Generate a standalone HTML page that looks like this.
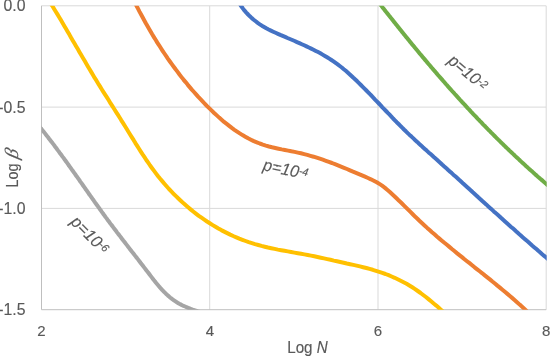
<!DOCTYPE html>
<html><head><meta charset="utf-8">
<style>
html,body{margin:0;padding:0;background:#fff;width:550px;height:356px;overflow:hidden}
svg{display:block;will-change:transform}
text{font-family:"Liberation Sans",sans-serif;fill:#595959;stroke:#595959;stroke-width:0.15px}
</style></head>
<body>
<svg width="550" height="356" viewBox="0 0 550 356">
<defs><clipPath id="pa"><rect x="41.5" y="5.8" width="505.2" height="303.9"/></clipPath></defs>
<g stroke="#D9D9D9" stroke-width="1" fill="none">
<line x1="41.5" y1="5.8" x2="546.2" y2="5.8"/>
<line x1="41.5" y1="107.1" x2="546.2" y2="107.1"/>
<line x1="41.5" y1="208.4" x2="546.2" y2="208.4"/>
<line x1="209.7" y1="5.8" x2="209.7" y2="309.7"/>
<line x1="378.0" y1="5.8" x2="378.0" y2="309.7"/>
<line x1="546.2" y1="5.8" x2="546.2" y2="309.7"/>
</g>
<g stroke="#BFBFBF" stroke-width="1" fill="none">
<line x1="41.5" y1="5.8" x2="41.5" y2="309.7"/>
<line x1="41.5" y1="309.7" x2="546.2" y2="309.7"/>
</g>
<g clip-path="url(#pa)" fill="none" stroke-width="4" stroke-linejoin="round">
<path stroke="#A5A5A5" d="M37.8,124.6 38.9,125.9 39.9,127.1 40.9,128.4 41.9,129.6 42.9,130.9 44.0,132.1 45.0,133.4 46.0,134.7 47.0,136.0 48.0,137.2 48.9,138.5 49.9,139.8 50.9,141.1 51.9,142.3 52.9,143.6 53.9,144.9 54.8,146.2 55.8,147.5 56.8,148.8 57.7,150.1 58.7,151.4 59.6,152.7 60.6,154.0 61.6,155.3 62.5,156.6 63.5,157.9 64.4,159.2 65.4,160.5 66.3,161.8 67.3,163.1 68.2,164.4 69.1,165.8 70.1,167.1 71.0,168.4 71.9,169.7 72.9,171.0 73.8,172.3 74.8,173.7 75.7,175.0 76.6,176.3 77.6,177.6 78.5,178.9 79.4,180.2 80.3,181.6 81.3,182.9 82.2,184.2 83.1,185.5 84.1,186.9 85.0,188.2 85.9,189.5 86.9,190.8 87.8,192.1 88.7,193.5 89.6,194.8 90.6,196.1 91.5,197.4 92.4,198.7 93.4,200.0 94.3,201.4 95.2,202.7 96.2,204.0 97.1,205.3 98.1,206.6 99.0,207.9 99.9,209.2 100.9,210.5 101.8,211.9 102.8,213.2 103.7,214.5 104.7,215.8 105.6,217.1 106.6,218.4 107.5,219.7 108.5,221.0 109.5,222.3 110.4,223.6 111.4,224.9 112.4,226.1 113.3,227.4 114.3,228.7 115.3,230.0 116.3,231.3 117.2,232.6 118.2,233.9 119.2,235.1 120.2,236.4 121.2,237.7 122.1,239.0 123.1,240.3 124.1,241.5 125.1,242.8 126.1,244.1 127.1,245.4 128.1,246.7 129.0,247.9 130.0,249.2 131.0,250.5 132.0,251.8 133.0,253.0 134.0,254.3 135.0,255.6 136.0,256.9 137.0,258.1 138.0,259.4 139.0,260.7 140.0,262.0 140.9,263.3 141.9,264.5 142.9,265.8 143.9,267.1 144.9,268.4 145.9,269.7 146.9,271.0 147.9,272.2 148.9,273.5 149.8,274.8 150.8,276.1 151.8,277.4 152.8,278.7 153.8,280.0 154.8,281.2 155.8,282.5 156.8,283.7 157.9,285.0 158.9,286.2 159.9,287.4 161.0,288.6 162.1,289.8 163.2,291.0 164.3,292.1 165.4,293.2 166.5,294.3 167.7,295.4 168.9,296.4 170.1,297.5 171.3,298.4 172.6,299.4 173.9,300.3 175.2,301.2 176.5,302.1 177.9,302.9 179.3,303.7 180.7,304.4 182.1,305.2 183.6,305.9 185.1,306.5 186.6,307.2 188.1,307.8 189.6,308.4 191.1,309.0 192.7,309.6 194.2,310.1 195.8,310.6 197.4,311.2 198.9,311.7 200.5,312.2 202.1,312.7 203.7,313.1 205.3,313.6"/>
<path stroke="#FFC000" d="M48.7,0.2 50.5,3.0 52.3,5.8 54.0,8.7 55.7,11.5 57.5,14.4 59.2,17.2 60.9,20.1 62.6,23.0 64.3,25.9 66.0,28.8 67.7,31.7 69.4,34.6 71.0,37.5 72.7,40.4 74.4,43.3 76.1,46.2 77.8,49.1 79.4,51.9 81.1,54.8 82.8,57.7 84.5,60.6 86.2,63.5 87.9,66.4 89.6,69.3 91.3,72.1 93.0,75.0 94.7,77.9 96.5,80.7 98.2,83.6 100.0,86.4 101.7,89.2 103.5,92.1 105.3,94.9 107.1,97.7 108.9,100.5 110.6,103.4 112.4,106.2 114.2,109.0 116.0,111.8 117.8,114.6 119.6,117.5 121.3,120.3 123.1,123.1 124.9,126.0 126.6,128.8 128.4,131.7 130.1,134.5 131.9,137.4 133.7,140.2 135.4,143.1 137.2,145.9 139.0,148.8 140.8,151.6 142.6,154.4 144.5,157.2 146.3,160.0 148.2,162.7 150.1,165.5 152.1,168.2 154.1,170.9 156.1,173.6 158.1,176.2 160.2,178.8 162.4,181.4 164.6,184.0 166.8,186.5 169.0,189.0 171.3,191.4 173.6,193.8 176.0,196.2 178.4,198.5 180.8,200.8 183.3,203.1 185.8,205.3 188.4,207.5 190.9,209.6 193.5,211.7 196.2,213.8 198.8,215.8 201.5,217.7 204.3,219.6 207.0,221.5 209.8,223.3 212.7,225.1 215.5,226.8 218.4,228.5 221.3,230.1 224.2,231.6 227.2,233.1 230.2,234.6 233.2,236.0 236.3,237.3 239.3,238.6 242.4,239.8 245.6,241.0 248.7,242.1 251.9,243.1 255.0,244.1 258.3,245.0 261.5,245.9 264.7,246.7 268.0,247.5 271.3,248.2 274.6,248.9 277.9,249.6 281.2,250.2 284.5,250.8 287.8,251.4 291.1,252.0 294.4,252.6 297.8,253.2 301.1,253.8 304.4,254.4 307.7,255.0 311.0,255.6 314.3,256.3 317.5,257.0 320.8,257.7 324.0,258.4 327.3,259.1 330.5,259.8 333.8,260.6 337.0,261.3 340.3,262.0 343.6,262.7 346.8,263.5 350.1,264.2 353.4,264.9 356.6,265.6 359.9,266.4 363.1,267.2 366.4,268.0 369.6,268.9 372.8,269.8 376.0,270.8 379.2,271.8 382.3,272.9 385.5,274.0 388.6,275.2 391.6,276.5 394.7,277.8 397.7,279.2 400.7,280.7 403.6,282.2 406.6,283.8 409.4,285.5 412.3,287.3 415.1,289.1 417.8,291.0 420.6,293.0 423.2,295.0 425.9,297.0 428.5,299.1 431.1,301.3 433.7,303.5 436.3,305.6 438.8,307.8 441.3,310.1 443.9,312.3"/>
<path stroke="#ED7D31" d="M133.6,-0.0 135.1,2.9 136.5,5.8 138.0,8.7 139.5,11.6 141.1,14.5 142.6,17.3 144.2,20.2 145.7,23.0 147.3,25.8 149.0,28.7 150.6,31.5 152.2,34.3 153.9,37.1 155.6,39.8 157.3,42.6 159.1,45.3 160.8,48.0 162.6,50.8 164.4,53.5 166.2,56.1 168.0,58.8 169.9,61.5 171.8,64.1 173.7,66.7 175.6,69.3 177.6,71.9 179.5,74.5 181.5,77.1 183.5,79.6 185.6,82.1 187.6,84.6 189.7,87.1 191.8,89.6 194.0,92.0 196.1,94.4 198.3,96.9 200.5,99.2 202.8,101.6 205.0,104.0 207.3,106.3 209.7,108.6 212.0,110.9 214.4,113.2 216.8,115.4 219.2,117.6 221.6,119.7 224.1,121.9 226.7,123.9 229.2,125.9 231.8,127.9 234.4,129.8 237.1,131.6 239.8,133.4 242.5,135.1 245.3,136.7 248.1,138.3 250.9,139.7 253.8,141.1 256.8,142.3 259.8,143.5 262.8,144.6 265.9,145.6 269.0,146.5 272.1,147.3 275.3,148.0 278.5,148.7 281.7,149.4 284.9,150.0 288.1,150.6 291.4,151.3 294.6,151.9 297.8,152.6 301.0,153.3 304.2,154.1 307.3,154.9 310.4,155.8 313.6,156.7 316.7,157.7 319.8,158.7 322.8,159.7 325.9,160.8 328.9,161.9 332.0,163.0 335.0,164.2 338.0,165.4 341.0,166.6 344.0,167.8 347.0,169.0 350.0,170.3 353.0,171.6 356.0,172.8 359.0,174.1 362.0,175.4 365.0,176.7 368.0,178.0 370.9,179.3 373.8,180.7 376.7,182.2 379.4,183.9 382.1,185.7 384.7,187.6 387.2,189.7 389.6,191.8 392.0,194.0 394.4,196.2 396.8,198.5 399.1,200.8 401.5,203.0 403.8,205.3 406.1,207.6 408.4,209.9 410.7,212.2 413.0,214.5 415.3,216.8 417.7,219.0 420.0,221.3 422.4,223.5 424.8,225.7 427.2,227.9 429.6,230.0 432.0,232.2 434.5,234.3 436.9,236.5 439.4,238.6 441.9,240.7 444.4,242.8 446.9,244.8 449.4,246.9 451.9,249.0 454.4,251.0 456.9,253.1 459.4,255.1 462.0,257.1 464.5,259.2 467.0,261.2 469.6,263.2 472.1,265.2 474.6,267.3 477.2,269.3 479.7,271.3 482.3,273.3 484.8,275.4 487.3,277.4 489.9,279.4 492.4,281.5 494.9,283.5 497.4,285.6 499.9,287.6 502.4,289.7 504.9,291.8 507.4,293.9 509.9,296.0 512.4,298.1 514.8,300.2 517.3,302.4 519.7,304.6 522.1,306.7 524.5,308.9 526.9,311.1"/>
<path stroke="#4472C4" d="M237.2,-0.3 238.6,2.1 240.0,4.3 241.5,6.5 243.0,8.6 244.6,10.7 246.3,12.6 248.1,14.5 249.9,16.3 251.8,18.1 253.7,19.7 255.7,21.3 257.7,22.9 259.8,24.3 261.9,25.7 264.1,27.0 266.3,28.3 268.6,29.5 270.9,30.6 273.2,31.7 275.6,32.8 277.9,33.8 280.3,34.9 282.7,35.9 285.1,36.9 287.5,38.0 289.9,39.0 292.3,40.0 294.7,41.0 297.0,42.1 299.4,43.1 301.8,44.2 304.2,45.3 306.5,46.4 308.9,47.5 311.2,48.6 313.5,49.7 315.8,50.9 318.1,52.1 320.4,53.3 322.6,54.6 324.9,55.9 327.1,57.2 329.3,58.6 331.4,60.0 333.5,61.4 335.6,62.9 337.7,64.4 339.8,66.0 341.8,67.5 343.8,69.2 345.8,70.8 347.7,72.5 349.6,74.2 351.5,76.0 353.4,77.8 355.3,79.5 357.2,81.3 359.0,83.1 360.9,85.0 362.7,86.8 364.5,88.6 366.4,90.5 368.2,92.3 370.0,94.2 371.8,96.0 373.5,97.9 375.3,99.8 377.1,101.6 378.9,103.5 380.7,105.4 382.4,107.3 384.2,109.1 386.0,111.0 387.8,112.9 389.6,114.7 391.4,116.6 393.1,118.5 394.9,120.3 396.7,122.2 398.6,124.0 400.4,125.8 402.2,127.7 404.0,129.5 405.9,131.3 407.7,133.1 409.6,134.9 411.5,136.6 413.4,138.4 415.3,140.2 417.2,141.9 419.1,143.7 421.0,145.4 422.9,147.2 424.8,148.9 426.7,150.6 428.6,152.4 430.6,154.1 432.5,155.8 434.4,157.6 436.4,159.3 438.3,161.0 440.2,162.7 442.1,164.5 444.0,166.2 446.0,167.9 447.9,169.7 449.8,171.4 451.7,173.1 453.6,174.9 455.6,176.6 457.5,178.3 459.4,180.1 461.3,181.8 463.2,183.6 465.1,185.3 467.0,187.0 469.0,188.8 470.9,190.5 472.8,192.3 474.7,194.0 476.6,195.7 478.5,197.5 480.4,199.2 482.3,200.9 484.3,202.7 486.2,204.4 488.1,206.2 490.0,207.9 491.9,209.6 493.8,211.4 495.7,213.1 497.7,214.8 499.6,216.5 501.5,218.3 503.4,220.0 505.3,221.7 507.3,223.5 509.2,225.2 511.1,226.9 513.1,228.6 515.0,230.3 516.9,232.1 518.8,233.8 520.8,235.5 522.7,237.2 524.7,238.9 526.6,240.6 528.6,242.3 530.5,244.0 532.4,245.7 534.4,247.4 536.4,249.1 538.3,250.8 540.3,252.5 542.2,254.2 544.2,255.9 546.2,257.5 548.1,259.2 550.1,260.9"/>
<path stroke="#70AD47" d="M376.9,0.1 377.9,1.3 378.9,2.6 379.9,3.9 380.8,5.1 381.8,6.4 382.8,7.7 383.8,8.9 384.8,10.2 385.8,11.5 386.8,12.7 387.8,14.0 388.8,15.3 389.8,16.5 390.8,17.8 391.8,19.0 392.8,20.3 393.8,21.6 394.8,22.8 395.8,24.1 396.8,25.3 397.8,26.6 398.8,27.8 399.8,29.1 400.8,30.3 401.8,31.6 402.8,32.8 403.8,34.1 404.8,35.3 405.8,36.6 406.9,37.8 407.9,39.1 408.9,40.3 409.9,41.6 410.9,42.8 411.9,44.1 413.0,45.3 414.0,46.5 415.0,47.8 416.0,49.0 417.1,50.3 418.1,51.5 419.1,52.7 420.1,54.0 421.2,55.2 422.2,56.4 423.2,57.7 424.3,58.9 425.3,60.1 426.3,61.3 427.4,62.6 428.4,63.8 429.5,65.0 430.5,66.2 431.5,67.5 432.6,68.7 433.6,69.9 434.7,71.1 435.7,72.3 436.8,73.6 437.8,74.8 438.9,76.0 439.9,77.2 441.0,78.4 442.1,79.6 443.1,80.8 444.2,82.0 445.2,83.2 446.3,84.5 447.4,85.7 448.4,86.9 449.5,88.1 450.6,89.3 451.6,90.5 452.7,91.7 453.8,92.8 454.8,94.0 455.9,95.2 457.0,96.4 458.1,97.6 459.2,98.8 460.2,100.0 461.3,101.2 462.4,102.4 463.5,103.5 464.6,104.7 465.7,105.9 466.8,107.1 467.9,108.3 469.0,109.4 470.1,110.6 471.1,111.8 472.2,112.9 473.3,114.1 474.5,115.3 475.6,116.4 476.7,117.6 477.8,118.8 478.9,119.9 480.0,121.1 481.1,122.2 482.2,123.4 483.3,124.6 484.5,125.7 485.6,126.9 486.7,128.0 487.8,129.2 488.9,130.3 490.1,131.4 491.2,132.6 492.3,133.7 493.5,134.9 494.6,136.0 495.7,137.1 496.9,138.3 498.0,139.4 499.2,140.5 500.3,141.7 501.4,142.8 502.6,143.9 503.7,145.0 504.9,146.1 506.0,147.3 507.2,148.4 508.4,149.5 509.5,150.6 510.7,151.7 511.8,152.8 513.0,153.9 514.2,155.0 515.3,156.1 516.5,157.2 517.7,158.3 518.9,159.4 520.0,160.5 521.2,161.6 522.4,162.7 523.6,163.8 524.8,164.9 525.9,166.0 527.1,167.0 528.3,168.1 529.5,169.2 530.7,170.3 531.9,171.3 533.1,172.4 534.3,173.5 535.5,174.6 536.7,175.6 537.9,176.7 539.1,177.7 540.3,178.8 541.6,179.9 542.8,180.9 544.0,182.0 545.2,183.0 546.4,184.1 547.7,185.1 548.9,186.1 550.1,187.2"/>
</g>
<g font-size="15.8" text-anchor="end">
<text transform="translate(25.5,11.2)">0.0</text>
<text transform="translate(25.5,113.1)">-0.5</text>
<text transform="translate(25.5,214.4)">-1.0</text>
<text transform="translate(25.5,314.9)">-1.5</text>
</g>
<g font-size="15" text-anchor="middle">
<text transform="translate(41.5,336)">2</text>
<text transform="translate(210.0,336)">4</text>
<text transform="translate(378.0,336)">6</text>
<text transform="translate(546.2,336)">8</text>
</g>
<text font-size="16" transform="translate(287.2,352.6) scale(0.95,1)">Log <tspan font-style="italic">N</tspan></text>
<text font-size="16" transform="translate(17.6,187.6) rotate(-90) scale(0.9,1)">Log</text>
<text font-size="19" font-family="Liberation Serif" font-style="italic" style="font-family:'Liberation Serif',serif" transform="translate(17.6,188) rotate(-90) translate(28.4,0) skewX(-14)">β</text>
<text font-size="16.8" font-style="italic" transform="translate(447,62.3) rotate(40) scale(0.96,1)">p=10<tspan font-size="11" dy="-3.5">-2</tspan></text>
<text font-size="16.8" font-style="italic" transform="translate(262.2,170.1) rotate(12) scale(0.96,1)">p=10<tspan font-size="11" dy="-3.5">-4</tspan></text>
<text font-size="16.8" font-style="italic" transform="translate(69.8,222.8) rotate(45) scale(0.96,1)">p=10<tspan font-size="11" dy="-3.5">-6</tspan></text>
</svg>
</body></html>
